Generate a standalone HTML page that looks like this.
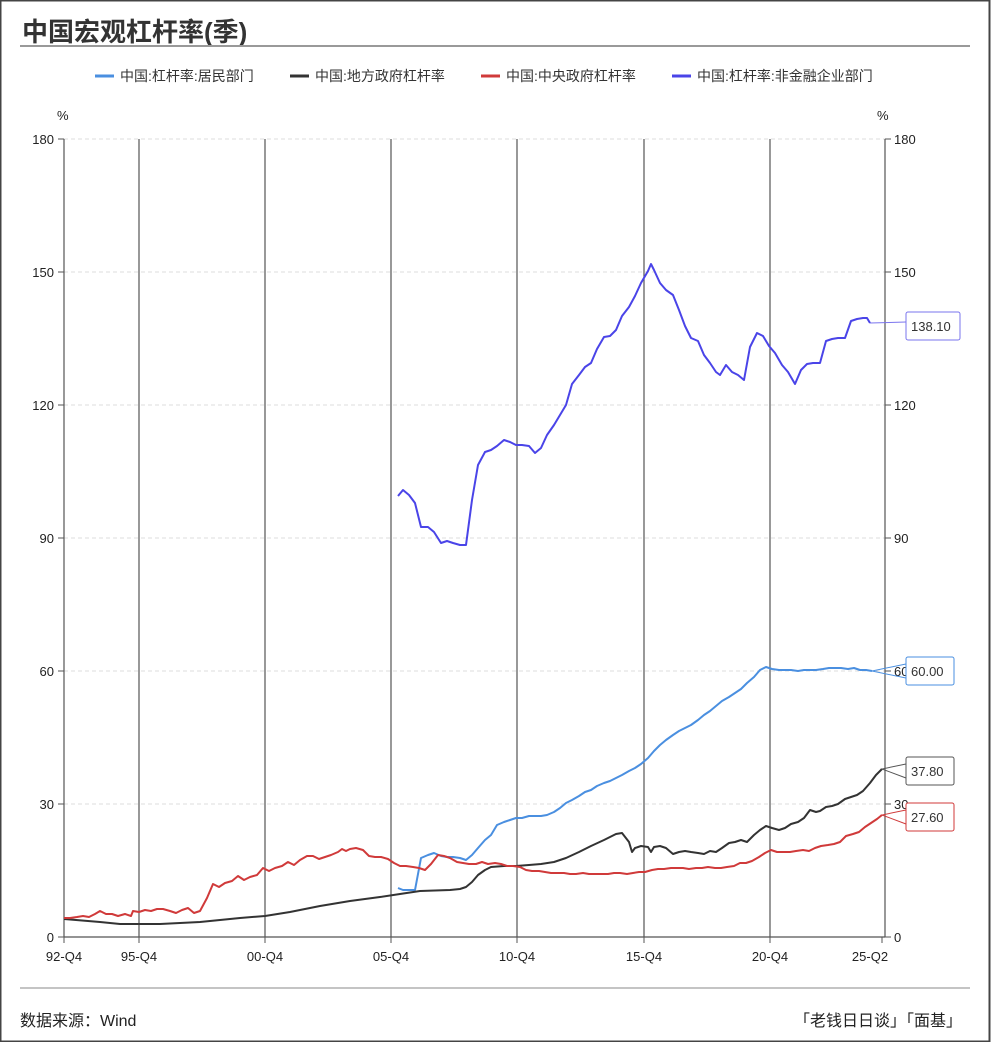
<!DOCTYPE html>
<html><head><meta charset="utf-8"><style>
body{margin:0;background:#fff;}
svg text{font-family:"Liberation Sans","Noto Sans CJK SC",sans-serif;}
</style></head><body>
<svg width="994" height="1042" viewBox="0 0 994 1042" xmlns="http://www.w3.org/2000/svg">
<rect x="0" y="0" width="994" height="1042" fill="#fff"/>
<rect x="0.5" y="0.5" width="989" height="1041" fill="none" stroke="#444" stroke-width="2"/>
<text x="22" y="41" font-size="26" font-weight="bold" fill="#333">中国宏观杠杆率(季)</text>
<line x1="20" y1="46" x2="970" y2="46" stroke="#999" stroke-width="2"/>
<g font-size="14" fill="#333">
<line x1="95" y1="76" x2="114" y2="76" stroke="#4a8fe0" stroke-width="3"/><text x="120" y="81">中国:杠杆率:居民部门</text>
<line x1="290" y1="76" x2="309" y2="76" stroke="#333" stroke-width="3"/><text x="315" y="81">中国:地方政府杠杆率</text>
<line x1="481" y1="76" x2="500" y2="76" stroke="#d03a3a" stroke-width="3"/><text x="506" y="81">中国:中央政府杠杆率</text>
<line x1="672" y1="76" x2="691" y2="76" stroke="#4a44e8" stroke-width="3"/><text x="697" y="81">中国:杠杆率:非金融企业部门</text>
</g>
<g font-size="13" fill="#222">
<text x="57" y="120">%</text><text x="877" y="120">%</text>
</g>
<g stroke="#ddd" stroke-dasharray="4,3">
<line x1="64" y1="139" x2="885" y2="139"/><line x1="64" y1="272" x2="885" y2="272"/><line x1="64" y1="405" x2="885" y2="405"/>
<line x1="64" y1="538" x2="885" y2="538"/><line x1="64" y1="671" x2="885" y2="671"/><line x1="64" y1="804" x2="885" y2="804"/>
</g>
<g stroke="#555" stroke-width="1.2">
<line x1="139" y1="139" x2="139" y2="937"/><line x1="265" y1="139" x2="265" y2="937"/><line x1="391" y1="139" x2="391" y2="937"/>
<line x1="517" y1="139" x2="517" y2="937"/><line x1="644" y1="139" x2="644" y2="937"/><line x1="770" y1="139" x2="770" y2="937"/>
<line x1="64" y1="139" x2="64" y2="937"/><line x1="885" y1="139" x2="885" y2="937"/>
<line x1="64" y1="937" x2="885" y2="937"/>
</g>
<g stroke="#555">
<line x1="58" y1="139" x2="64" y2="139"/><line x1="58" y1="272" x2="64" y2="272"/><line x1="58" y1="405" x2="64" y2="405"/><line x1="58" y1="538" x2="64" y2="538"/><line x1="58" y1="671" x2="64" y2="671"/><line x1="58" y1="804" x2="64" y2="804"/><line x1="58" y1="937" x2="64" y2="937"/>
<line x1="885" y1="139" x2="891" y2="139"/><line x1="885" y1="272" x2="891" y2="272"/><line x1="885" y1="405" x2="891" y2="405"/><line x1="885" y1="538" x2="891" y2="538"/><line x1="885" y1="671" x2="891" y2="671"/><line x1="885" y1="804" x2="891" y2="804"/><line x1="885" y1="937" x2="891" y2="937"/>
<line x1="64" y1="937" x2="64" y2="943"/><line x1="139" y1="937" x2="139" y2="943"/><line x1="265" y1="937" x2="265" y2="943"/><line x1="391" y1="937" x2="391" y2="943"/><line x1="517" y1="937" x2="517" y2="943"/><line x1="644" y1="937" x2="644" y2="943"/><line x1="770" y1="937" x2="770" y2="943"/><line x1="882" y1="937" x2="882" y2="943"/>
</g>
<g font-size="13" fill="#222" text-anchor="end">
<text x="54" y="144">180</text><text x="54" y="277">150</text><text x="54" y="410">120</text><text x="54" y="543">90</text><text x="54" y="676">60</text><text x="54" y="809">30</text><text x="54" y="942">0</text>
</g>
<g font-size="13" fill="#222">
<text x="894" y="144">180</text><text x="894" y="277">150</text><text x="894" y="410">120</text><text x="894" y="543">90</text><text x="894" y="676">60</text><text x="894" y="809">30</text><text x="894" y="942">0</text>
</g>
<g font-size="13" fill="#222" text-anchor="middle">
<text x="64" y="961">92-Q4</text><text x="139" y="961">95-Q4</text><text x="265" y="961">00-Q4</text><text x="391" y="961">05-Q4</text><text x="517" y="961">10-Q4</text><text x="644" y="961">15-Q4</text><text x="770" y="961">20-Q4</text><text x="870" y="961">25-Q2</text>
</g>
<g fill="none" stroke-width="2" stroke-linejoin="round">
<polyline stroke="#4a44e8" points="398,496 403,490 409,495 415,503 421,527 428,527 434,532 441,543 447,541 453,543 460,545 466,545 472,500 478,465 485,452 491,450 497,446 504,440 510,442 516,445 522,445 529,446 535,453 541,448 547,435 554,425 560,415 566,405 572,384 579,375 585,367 591,363 597,349 604,337 610,336 616,330 622,316 629,307 635,296 641,283 648,271 651,264 654,270 660,283 666,290 673,295 679,310 685,326 691,338 698,341 704,355 710,363 716,372 720,375 726,365 732,372 738,375 744,380 750,347 757,333 763,336 769,346 775,353 782,365 788,372 795,384 801,370 807,364 813,363 820,363 826,341 832,339 838,338 845,338 851,321 857,319 863,318 867,318 870,323"/>
<polyline stroke="#4a8fe0" points="398,888 403,890 409,890 415,890 421,858 428,855 434,853 441,856 447,857 453,857 460,858 466,860 472,855 478,848 485,840 491,835 497,825 504,822 510,820 516,818 522,818 529,816 535,816 541,816 547,815 554,812 560,808 566,803 572,800 579,796 585,792 591,790 597,786 604,783 610,781 616,778 622,775 629,771 635,768 641,764 648,758 654,751 660,745 666,740 673,735 679,731 685,728 691,725 698,720 704,715 710,711 716,706 722,701 729,697 735,693 741,689 747,683 754,677 760,670 766,667 772,669 779,670 785,670 791,670 798,671 804,670 810,670 816,670 823,669 829,668 835,668 841,668 848,669 854,668 860,670 866,670 872,671"/>
<polyline stroke="#333" points="64,919 100,922 120,924 160,924 200,922 240,918 265,916 290,912 320,906 350,901 380,897 400,894 420,891 450,890 460,889 466,887 472,882 478,875 485,870 491,867 504,866 516,866 529,865 541,864 554,862 566,858 579,852 591,846 604,840 616,834 622,833 629,842 632,852 635,848 641,846 648,847 651,852 654,847 660,846 666,848 673,854 679,852 685,851 691,852 698,853 704,854 710,851 716,852 722,848 729,843 735,842 741,840 747,842 754,835 760,830 766,826 772,828 779,830 785,828 791,824 798,822 804,818 810,810 816,812 820,811 826,807 832,806 838,804 845,799 851,797 857,795 863,791 870,783 876,775 882,769"/>
<polyline stroke="#d03a3a" points="64,918 70,918 77,917 83,916 89,917 95,914 100,911 106,914 112,914 118,916 125,914 131,916 133,911 139,912 145,910 151,911 157,909 163,909 170,911 176,913 182,910 188,908 194,913 200,911 207,898 213,884 219,887 225,883 232,881 238,876 244,880 250,877 257,875 263,868 269,871 275,868 282,866 288,862 294,865 300,860 307,856 313,856 319,859 325,857 331,855 338,852 342,849 346,851 350,849 356,848 363,850 369,856 375,857 381,857 388,859 394,863 400,866 406,866 413,867 419,868 425,870 431,864 438,855 444,856 450,858 457,862 463,863 469,864 476,864 482,862 488,864 495,863 501,864 507,866 513,866 520,867 526,870 532,871 539,871 545,872 551,873 557,873 564,873 570,874 576,874 583,873 589,874 595,874 601,874 608,874 614,873 620,873 627,874 633,873 639,872 645,872 652,870 658,869 664,869 671,868 677,868 683,868 689,869 696,868 702,868 708,867 715,868 721,868 727,867 734,866 740,863 746,863 752,861 759,857 765,853 771,850 777,852 784,852 790,852 796,851 803,850 809,851 815,848 821,846 828,845 834,844 840,842 846,836 853,834 859,832 865,827 871,823 877,819 882,815"/>
</g>
<g font-size="13" fill="#333" stroke-width="1">
<polyline points="870,323 906,322" fill="none" stroke="#7a74ee"/>
<rect x="906" y="312" width="54" height="28" rx="2" fill="#fff" stroke="#7a74ee"/><text x="911" y="331" stroke="none">138.10</text>
<polyline points="906,664 872,671 906,678" fill="none" stroke="#4a8fe0"/>
<rect x="906" y="657" width="48" height="28" rx="2" fill="#fff" stroke="#4a8fe0"/><text x="911" y="676" stroke="none">60.00</text>
<polyline points="906,764 882,769 906,778" fill="none" stroke="#555"/>
<rect x="906" y="757" width="48" height="28" rx="2" fill="#fff" stroke="#555"/><text x="911" y="776" stroke="none">37.80</text>
<polyline points="906,810 882,815 906,824" fill="none" stroke="#d03a3a"/>
<rect x="906" y="803" width="48" height="28" rx="2" fill="#fff" stroke="#d03a3a"/><text x="911" y="822" stroke="none">27.60</text>
</g>
<line x1="20" y1="988" x2="970" y2="988" stroke="#888" stroke-width="1"/>
<text x="20" y="1026" font-size="16" fill="#222">数据来源：Wind</text>
<text x="962" y="1026" font-size="16" fill="#222" text-anchor="end">「老钱日日谈」「面基」</text>
</svg>
</body></html>
